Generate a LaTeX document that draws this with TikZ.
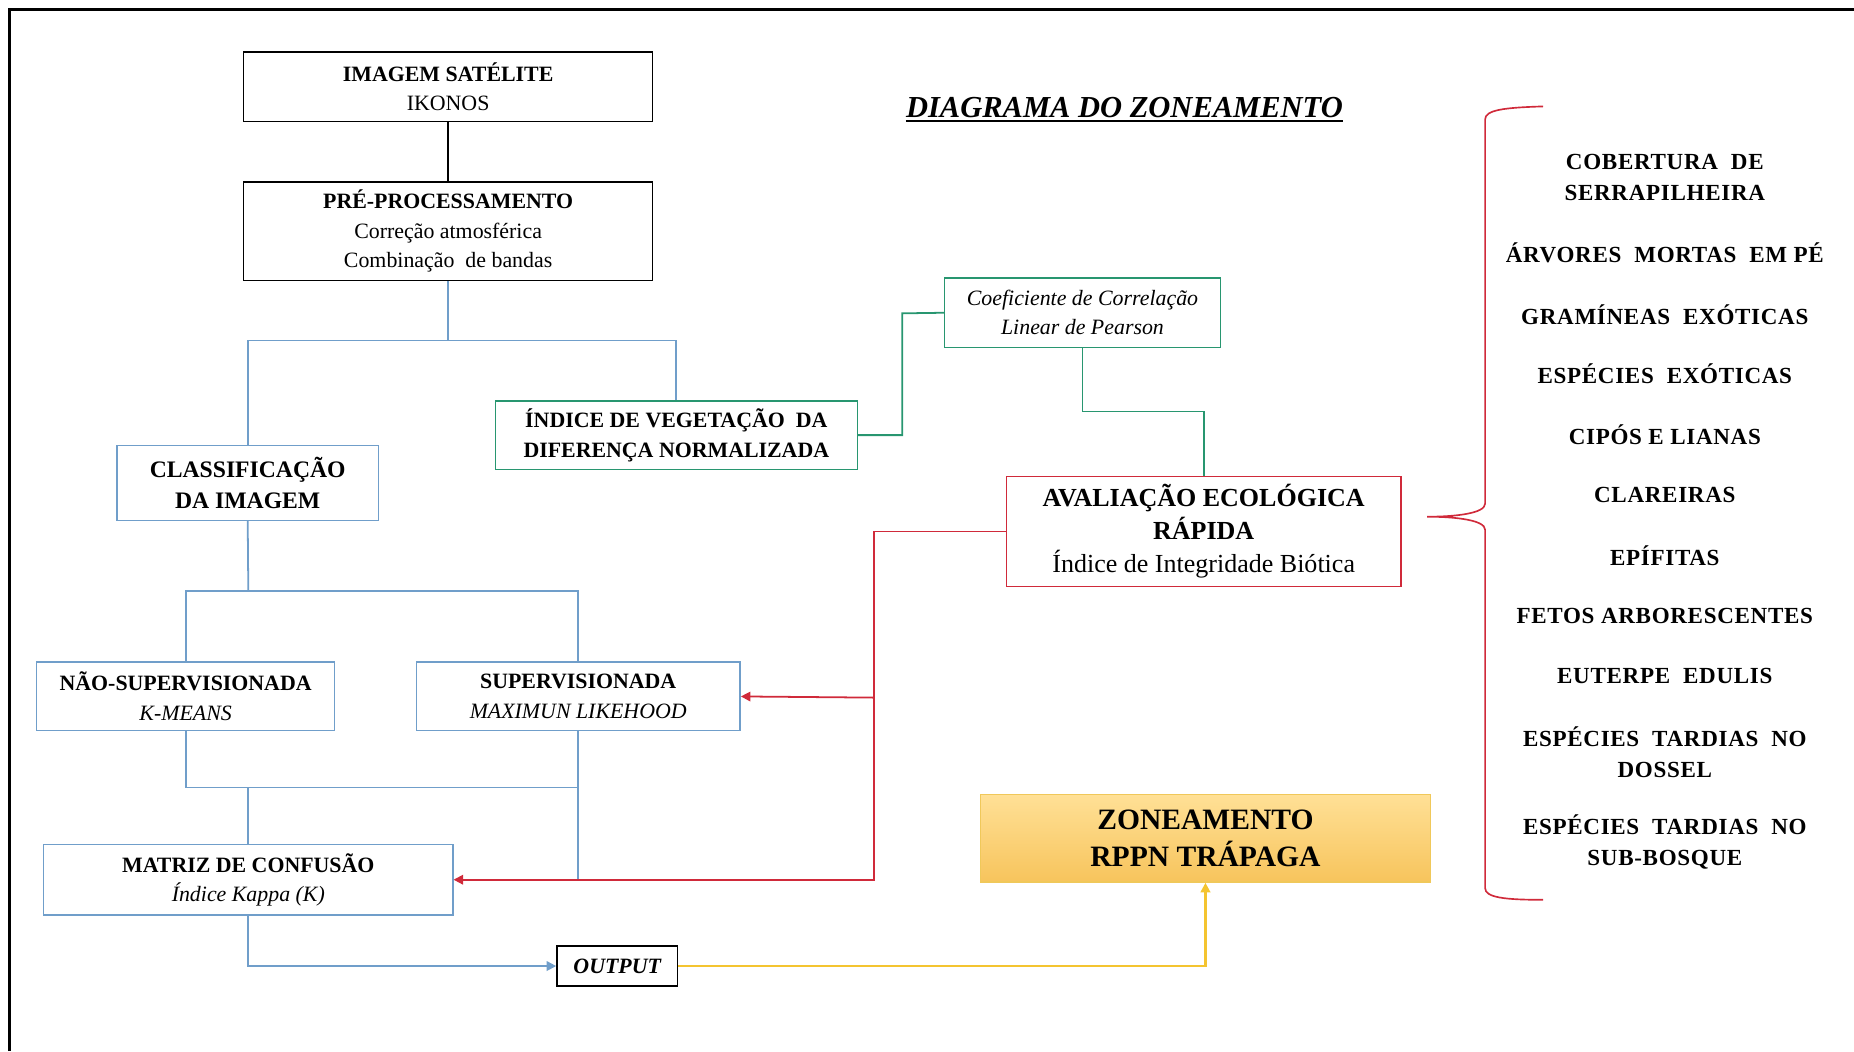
\documentclass[tikz,border=0pt]{standalone}
\usepackage{fontspec}
\setmainfont{Liberation Serif}
\newfontfamily\listfont[LetterSpace=3]{Liberation Serif}
\usetikzlibrary{arrows.meta}
\definecolor{bluel}{RGB}{112,158,202}
\definecolor{greenl}{RGB}{40,150,112}
\definecolor{redl}{RGB}{208,42,58}
\definecolor{goldl}{RGB}{244,196,48}
\definecolor{zontop}{RGB}{255,224,150}
\definecolor{zonbot}{RGB}{247,196,92}
\definecolor{zonedge}{RGB}{240,200,90}
\begin{document}
\begin{tikzpicture}[x=1pt,y=-1pt,
  box/.style={draw, line width=1.2pt, inner sep=0pt, align=center, font=\fontsize{18.5}{25}\selectfont},
  blackbox/.style={box, draw=black},
  bluebox/.style={box, draw=bluel},
  greenbox/.style={box, draw=greenl},
  redbox/.style={box, draw=redl},
  blk/.style={draw=black, line width=1.3pt},
  bl/.style={draw=bluel, line width=1.5pt},
  gr/.style={draw=greenl, line width=1.5pt},
  rd/.style={draw=redl, line width=1.5pt},
  gd/.style={draw=goldl, line width=2pt},
  tip/.style={-{Triangle[length=8pt,width=8pt]}},
  item/.style={inner sep=0pt, align=center, font=\listfont\bfseries\fontsize{19.5}{26}\selectfont}
]
\useasboundingbox (0,0) rectangle (1568,889);
% frame
\draw[line width=1.8pt] (8,889) -- (8,8) -- (1568,8);

% title
\node[inner sep=0pt, anchor=base, font=\bfseries\itshape\fontsize{25.8}{30}\selectfont] (title) at (951,99) {DIAGRAMA DO ZONEAMENTO};
\draw[line width=1.6pt] ([yshift=-3.5pt]title.base west) -- ([yshift=-3.5pt]title.base east);

% boxes
\node[blackbox, minimum width=346, minimum height=59] (sat) at (379,73.5)
  {\textbf{IMAGEM SATÉLITE}\\IKONOS};
\node[blackbox, minimum width=346, minimum height=83] (pre) at (379,195.5)
  {\textbf{PRÉ-PROCESSAMENTO}\\Correção atmosférica\\Combinação\ \ de bandas};
\node[greenbox, minimum width=306, minimum height=58] (ndvi) at (572,368)
  {\textbf{ÍNDICE DE VEGETAÇÃO\ \ DA}\\\textbf{DIFERENÇA NORMALIZADA}};
\node[greenbox, minimum width=233, minimum height=59, font=\itshape\fontsize{18.5}{24.5}\selectfont] (coef) at (915.5,264.5)
  {Coeficiente de Correlação\\Linear de Pearson};
\node[bluebox, minimum width=221, minimum height=63, font=\bfseries\fontsize{20}{26}\selectfont] (cls) at (209.5,408.5)
  {CLASSIFICAÇÃO\\DA IMAGEM};
\node[redbox, minimum width=334, minimum height=93, font=\fontsize{22}{28}\selectfont] (aval) at (1018,449.5)
  {\textbf{AVALIAÇÃO ECOLÓGICA}\\\textbf{RÁPIDA}\\Índice de Integridade Biótica};
\node[bluebox, minimum width=252, minimum height=58] (nao) at (157,589)
  {\textbf{NÃO-SUPERVISIONADA}\\\textit{K-MEANS}};
\node[bluebox, minimum width=274, minimum height=58] (sup) at (489,589)
  {\textbf{SUPERVISIONADA}\\\textit{MAXIMUN LIKEHOOD}};
\node[bluebox, minimum width=346, minimum height=60] (mat) at (210,744)
  {\textbf{MATRIZ DE CONFUSÃO}\\\textit{Índice Kappa (K)}};
\node[blackbox, minimum width=102, minimum height=34, font=\bfseries\itshape\fontsize{18.5}{25}\selectfont] (out) at (522,817)
  {OUTPUT};
\node[box, draw=zonedge, top color=zontop, bottom color=zonbot, minimum width=381, minimum height=74, font=\bfseries\fontsize{25}{31}\selectfont] (zon) at (1019.5,709)
  {ZONEAMENTO\\RPPN TRÁPAGA};

% coordinates for joints
\coordinate (b1) at (379,288);
\coordinate (b2) at (210,500);
\coordinate (b3) at (210,666);
\coordinate (b4) at (489,745);
\coordinate (g1) at (763,265);
\coordinate (g2) at (1018,348);
\coordinate (rj) at (739,590);

% connectors
\draw[blk] (sat.south) -- (pre.north);
\draw[bl] (pre.south) -- (b1);
\draw[bl] (cls.north) |- (b1) -| (ndvi.north);
\draw[bl] (cls.south) -- (b2);
\draw[bl] (nao.north) |- (b2) -| (sup.north);
\draw[bl] (nao.south) |- (b3) -| (sup.south);
\draw[bl] (b3) -- (mat.north);
\draw[bl] (sup.south) -- (b4);
\draw[gr] (ndvi.east) -| (g1) -- (coef.west);
\draw[gr] (coef.south) |- (g2) -- (aval.north);
\draw[rd, tip] (aval.west) -| (rj) |- (mat.east);
\draw[rd, tip] (rj) -- (sup.east);
\draw[bl, tip] (mat.south) |- (out.west);
\draw[gd, tip] (out.east) -| (zon.south);

% brace
\draw[redl, line width=1.4pt]
  (1305,90) .. controls (1272,91) and (1256,93) .. (1256,101)
  -- (1256,426) .. controls (1256,434) and (1232,437) .. (1207,437)
  .. controls (1232,437) and (1256,440) .. (1256,448)
  -- (1256,751) .. controls (1256,759) and (1272,761) .. (1305,761);

% list
\node[item] (l1) at (1408,150) {COBERTURA\ \ DE\\SERRAPILHEIRA};
\node[item] (l2) at (1408,214) {ÁRVORES\ \ MORTAS\ \ EM PÉ};
\node[item] (l3) at (1408,266) {GRAMÍNEAS\ \ EXÓTICAS};
\node[item] (l4) at (1408,316) {ESPÉCIES\ \ EXÓTICAS};
\node[item] (l5) at (1408,368) {CIPÓS E LIANAS};
\node[item] (l6) at (1408,419) {CLAREIRAS};
\node[item] (l7) at (1408,470) {EPÍFITAS};
\node[item] (l8) at (1408,521) {FETOS ARBORESCENTES};
\node[item] (l9) at (1408,572) {EUTERPE\ \ EDULIS};
\node[item] (l10) at (1408,636) {ESPÉCIES\ \ TARDIAS\ \ NO\\DOSSEL};
\node[item] (l11) at (1408,712) {ESPÉCIES\ \ TARDIAS\ \ NO\\SUB-BOSQUE};
\end{tikzpicture}
\end{document}
